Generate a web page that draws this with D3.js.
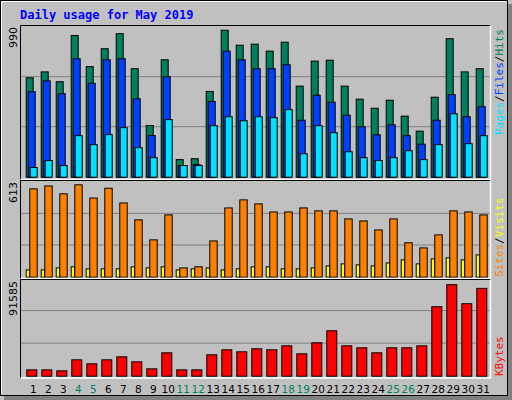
<!DOCTYPE html>
<html><head><meta charset="utf-8">
<script src="https://cdn.jsdelivr.net/npm/d3@7"></script>
<style>body{margin:0;background:#fff}svg{display:block}</style>
</head><body>
<script>
// Daily usage for May 2019
const days = d3.range(1, 32);
const weekend = [4,5,11,12,18,19,25,26];
const hits  = [656,695,630,935,730,848,947,716,341,775,116,122,566,970,871,878,832,891,601,766,772,601,515,455,508,403,304,528,914,695,716];
const files = [564,636,551,782,620,775,782,518,275,663,76,83,500,832,775,716,716,742,376,541,495,409,333,280,346,274,218,376,545,399,465];
const pages = [64,110,77,274,215,281,327,195,129,380,77,77,340,399,373,399,393,446,155,340,294,168,129,110,129,175,116,215,419,221,274];
const visits = [570,589,538,596,511,574,479,370,241,402,60,67,234,447,499,473,421,421,447,428,428,376,363,305,376,222,189,273,428,421,402];
const sites = [47,47,60,67,54,54,54,67,60,67,47,54,60,47,54,67,67,54,54,60,73,86,80,73,92,112,86,118,125,112,144];
const kbytes = [5948,5948,5009,15341,11584,15341,18159,13463,6887,21916,5948,5948,20037,24733,22855,25672,24733,28490,20975,31308,42580,28490,26612,21916,26612,26612,28490,65120,85785,67937,82341];
const maxHits = 990, maxVisits = 613, maxKB = 91585;

const W = 512, H = 400;
const svg = d3.select("body").append("svg").attr("width", W).attr("height", H);
const mono = "'DejaVu Sans Mono', monospace";
const sans = "'DejaVu Sans', sans-serif";

// background and 3d border
svg.append("rect").attr("x", 0).attr("y", 0).attr("width", W).attr("height", H).attr("fill", "#c0c0c0");
svg.append("rect").attr("x", 508).attr("y", 4).attr("width", 4).attr("height", 396).attr("fill", "#808080");
svg.append("rect").attr("x", 4).attr("y", 396).attr("width", 508).attr("height", 4).attr("fill", "#808080");
svg.append("rect").attr("x", 0.5).attr("y", 0.5).attr("width", 507).attr("height", 395).attr("fill", "none").attr("stroke", "#000");
svg.append("line").attr("x1", 1.5).attr("y1", 1.5).attr("x2", 506).attr("y2", 1.5).attr("stroke", "#fff");
svg.append("line").attr("x1", 1.5).attr("y1", 1.5).attr("x2", 1.5).attr("y2", 394).attr("stroke", "#fff");

svg.append("text").attr("x", 20).attr("y", 19).text("Daily usage for May 2019")
  .attr("font-family", mono).attr("font-weight", "bold").attr("font-size", 12).attr("fill", "#0000ff");

const x = d3.scaleLinear().domain([1, 31]).range([25.7, 475.7]);

function panel(y0, y1, top, base, grids) {
  svg.append("rect").attr("x", 20.5).attr("y", y0 + 0.5).attr("width", 470).attr("height", y1 - y0)
    .attr("fill", "#c0c0c0");
  grids.forEach(g => svg.append("line").attr("x1", 21).attr("x2", 490).attr("y1", g).attr("y2", g)
    .attr("stroke", "#808080"));
}
function frame(y0, y1) {
  svg.append("path").attr("d", `M20.5,${y1}V${y0 + 0.5}H490.5`).attr("fill", "none").attr("stroke", "#000").attr("stroke-width", 1);
  svg.append("path").attr("d", `M490.5,${y0 + 0.5}V${y1 - 0.5}H20.5`).attr("fill", "none").attr("stroke", "#fff").attr("stroke-width", 1.5);
}
function bars(data, scale, dx, w, color) {
  svg.append("g").selectAll("rect").data(data).join("rect")
    .attr("x", (d, i) => x(days[i]) + dx + 0.5)
    .attr("y", d => scale(d) + 0.5)
    .attr("width", w)
    .attr("height", d => scale(0) - scale(d))
    .attr("fill", color).attr("stroke", "#000").attr("stroke-width", 1);
}
function vlabel(txt, xx, yy, anchor) {
  svg.append("text").attr("transform", `translate(${xx},${yy}) rotate(-90)`).attr("text-anchor", anchor)
    .attr("font-family", sans).attr("font-size", 11).attr("fill", "#000").text(txt);
}

// panel 1: hits / files / pages
const y1 = d3.scaleLinear().domain([0, maxHits]).range([176.7, 26.7]);
panel(25, 180, 26.7, 176.7, [y1(maxHits / 3 * 2), y1(maxHits / 3)]);
bars(hits, y1, 0, 7, "#00805c");
bars(files, y1, 2, 7, "#0040ff");
bars(pages, y1, 4, 7, "#00e0ff");
frame(25, 180);
vlabel(maxHits, 17, 27, "end");

// panel 2: visits / sites
const y2 = d3.scaleLinear().domain([0, maxVisits]).range([276.7, 181.7]);
panel(180, 279, 181.7, 276.7, [y2(maxVisits / 3 * 2), y2(maxVisits / 3)]);
bars(sites, y2, 0, 3.6, "#ffff00");
bars(visits, y2, 3.6, 7.4, "#ff8000");
frame(180, 279);
vlabel(maxVisits, 17, 182, "end");

// panel 3: kbytes
const y3 = d3.scaleLinear().domain([0, maxKB]).range([375.7, 278]);
panel(279, 378.5, 278, 375.7, [y3(maxKB / 3 * 2), y3(maxKB / 3)]);
bars(kbytes, y3, 0.6, 10, "#ff0000");
frame(279, 378.5);
vlabel(maxKB, 17, 281, "end");

// right legends
function legend(parts, xx, yy) {
  const t = svg.append("text").attr("transform", `translate(${xx},${yy}) rotate(-90)`).attr("text-anchor", "start")
    .attr("font-family", mono).attr("font-size", 11);
  parts.forEach(p => t.append("tspan").attr("fill", p[1]).text(p[0]));
}
legend([["Pages", "#00e0ff"], ["/", "#000"], ["Files", "#0040ff"], ["/", "#000"], ["Hits", "#00805c"]], 503, 135);
legend([["Sites", "#ff8000"], ["/", "#000"], ["Visits", "#ffff00"]], 503, 277);
legend([["KBytes", "#ff0000"]], 503, 376);

// day labels
svg.append("g").selectAll("text").data(days).join("text")
  .attr("x", d => x(d) + 7.6).attr("y", 393).attr("text-anchor", "middle")
  .attr("font-family", sans).attr("font-size", 10.5)
  .attr("fill", d => weekend.includes(d) ? "#00805c" : "#000").text(d => d);
</script>
</body></html>
